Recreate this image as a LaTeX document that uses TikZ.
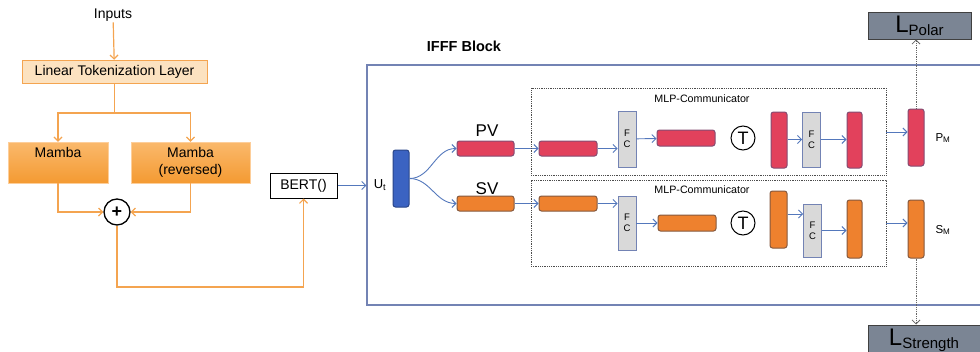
\documentclass[tikz,border=0pt]{standalone}
\usepackage{fontspec}
\setmainfont{Liberation Sans}
\usetikzlibrary{arrows.meta,calc}

\definecolor{lineblue}{HTML}{5478BC}
\definecolor{frameblue}{HTML}{7383B4}
\definecolor{lineorange}{HTML}{F4A450}
\definecolor{paleorange}{HTML}{FCE2C0}
\definecolor{mambatop}{HTML}{FAB96C}
\definecolor{mambabot}{HTML}{F49A32}
\definecolor{redbar}{HTML}{E2415C}
\definecolor{rededge}{HTML}{844C72}
\definecolor{orgbar}{HTML}{EE812E}
\definecolor{orgedge}{HTML}{85593E}
\definecolor{bluebar}{HTML}{3B63C2}
\definecolor{fcgray}{HTML}{D9D9D9}
\definecolor{lossgray}{HTML}{7B8594}

\begin{document}
\begin{tikzpicture}[x=1pt, y=-1pt,
    >={Straight Barb[length=4pt,width=8pt]},
    txt/.style={font=\fontsize{#1}{#1}\selectfont, inner sep=1pt},
    bflow/.style={->, draw=lineblue, line width=0.9pt},
    oflow/.style={->, draw=lineorange, line width=1.2pt},
    mambabox/.style={draw=paleorange!80!orange, top color=mambatop, bottom color=mambabot,
        minimum height=41, inner sep=0pt, align=center, font=\fontsize{14}{17}\selectfont},
    bar/.style 2 args={draw=#2, fill=#1, line width=1pt, rounded corners=2.5pt, inner sep=0pt},
    fcbox/.style={draw=frameblue, fill=fcgray, line width=0.8pt, inner sep=0pt, minimum width=18,
        align=center, font=\fontsize{9.5}{11}\selectfont},
    mlpbox/.style={draw=black!70, densely dotted, line width=0.8pt, minimum width=355, inner sep=0pt},
    tcirc/.style={draw, circle, line width=1pt, minimum size=24, inner sep=0pt, font=\fontsize{18}{18}\selectfont},
    lossbox/.style={draw=black!75, fill=lossgray, line width=1pt, inner sep=0pt}]
    \useasboundingbox (0,0) rectangle (980,351);

    % left branch
    \node[txt=14] (inputs) at (113,15) {Inputs};
    \node[draw=lineorange, fill=paleorange, minimum width=185, minimum height=23, inner sep=0pt,
        font=\fontsize{14}{16}\selectfont] (ltl) at (114.5,71.5) {Linear Tokenization Layer};
    \node[mambabox, minimum width=100] (mamba) at (58,162.5) {Mamba\\\phantom{(reversed)}};
    \node[mambabox, minimum width=119] (mambar) at (190.5,162.5) {Mamba\\(reversed)};
    \node[draw, circle, line width=1.3pt, minimum size=26, inner sep=0pt, font=\bfseries\fontsize{18}{18}\selectfont] (plus) at (117,212) {+};
    \node[draw, line width=1pt, minimum width=67, minimum height=25, inner sep=0pt,
        font=\fontsize{14}{15}\selectfont] (bert) at (303.5,185.5) {BERT()};
    \coordinate (split) at (114.5,113);
    \coordinate (low) at (117,287);

    \draw[oflow] (inputs) -- (ltl);
    \draw[draw=lineorange, line width=1.2pt] (ltl) -- (split);
    \draw[oflow] (split) -| (mamba);
    \draw[oflow] (split) -| (mambar);
    \draw[oflow] (mamba) |- (plus);
    \draw[oflow] (mambar) |- (plus);
    \draw[oflow] (plus) -- (low) -| (bert);

    % IFFF block
    \node[draw=frameblue, line width=1.3pt, minimum width=620, minimum height=240, inner sep=0pt] (ifff) at (677,185) {};
    \node[font=\bfseries\fontsize{14.5}{15}\selectfont, inner sep=1pt] (ifffl) at (464,46) {IFFF Block};
    \draw[bflow] (bert) -- (bert -| ifff.west);

    \node[bar={bluebar}{bluebar!70!black}, minimum width=16, minimum height=57] (ut) at (401,178.5) {};
    \node[txt=13] (utl) at (380,185) {U\textsubscript{t}};
    \node[bar={redbar}{rededge}, minimum width=57, minimum height=15] (pv) at (485.5,148.5) {};
    \node[bar={orgbar}{orgedge}, minimum width=57, minimum height=15] (sv) at (485.5,203.5) {};
    \node[txt=17] (pvl) at (487,131) {PV};
    \node[txt=17] (svl) at (487,189) {SV};
    \node[bar={redbar}{rededge}, minimum width=58, minimum height=15] (pv2) at (568,148.5) {};
    \node[bar={orgbar}{orgedge}, minimum width=58, minimum height=15] (sv2) at (568,203.5) {};
    \draw[bflow] (ut.east) to[out=0, in=180] (pv.west);
    \draw[bflow] (ut.east) to[out=0, in=180] (sv.west);
    \draw[bflow] (pv) -- (pv2);
    \draw[bflow] (sv) -- (sv2);

    % MLP-Communicators
    \node[mlpbox, minimum height=87] (mlp1) at (708.5,131.5) {};
    \node[mlpbox, minimum height=86] (mlp2) at (708.5,223) {};
    \node[txt=10.7] (mlp1l) at (702,99) {MLP-Communicator};
    \node[txt=10.7] (mlp2l) at (702,190) {MLP-Communicator};

    \node[fcbox, minimum height=56] (fc1) at (627,139) {F\\C};
    \node[bar={redbar}{rededge}, minimum width=58, minimum height=16] (pb3) at (686,138) {};
    \node[tcirc] (t1) at (743,138) {T};
    \node[bar={redbar}{rededge}, minimum width=16, minimum height=56] (pb4) at (779,140) {};
    \node[fcbox, minimum height=55] (fc2) at (811.5,139.5) {F\\C};
    \node[bar={redbar}{rededge}, minimum width=15, minimum height=56] (pb5) at (854.5,140) {};

    \node[fcbox, minimum height=54] (fc3) at (627,223) {F\\C};
    \node[bar={orgbar}{orgedge}, minimum width=58, minimum height=16] (ob3) at (687,223) {};
    \node[tcirc] (t2) at (743,223) {T};
    \node[bar={orgbar}{orgedge}, minimum width=17, minimum height=57] (ob4) at (778.5,219.5) {};
    \node[fcbox, minimum height=53] (fc4) at (812.5,230.5) {F\\C};
    \node[bar={orgbar}{orgedge}, minimum width=15, minimum height=58] (ob5) at (854.5,229) {};
    \coordinate (ob4out) at ($(ob4.east)+(0,-5.5)$);

    \draw[bflow] (pv2) -- (pv2 -| fc1.west);
    \draw[bflow] (fc1) -- (pb3);
    \draw[bflow] (pb4.east |- fc2) -- (fc2);
    \draw[bflow] (fc2) -- (pb5.west |- fc2);
    \draw[bflow] (sv2) -- (sv2 -| fc3.west);
    \draw[bflow] (fc3) -- (ob3);
    \draw[bflow] (ob4out) -- (ob4out -| fc4.west);
    \draw[bflow] (fc4) -- (fc4 -| ob5.west);

    % outputs
    \node[bar={redbar}{rededge}, minimum width=16, minimum height=57] (pm) at (916,137.5) {};
    \node[bar={orgbar}{orgedge}, minimum width=16, minimum height=58] (sm) at (916,229) {};
    \node[txt=11.5] (pml) at (943,138) {P\textsubscript{M}};
    \node[txt=11.5] (sml) at (943,230) {S\textsubscript{M}};
    \draw[bflow] (mlp1.east |- 0,132) -- (pm.west |- 0,132);
    \draw[bflow] (mlp2.east |- 0,223) -- (sm.west |- 0,223);

    \node[lossbox, minimum width=103, minimum height=27] (lpolar) at (919.5,25.5)
        {{\fontsize{24}{24}\selectfont L}\raisebox{-3pt}{\fontsize{15}{15}\selectfont Polar}};
    \node[lossbox, minimum width=112, minimum height=30] (lstrength) at (924,340)
        {{\fontsize{24}{24}\selectfont L}\raisebox{-3pt}{\fontsize{15}{15}\selectfont Strength}};
    \draw[->, densely dotted, draw=black!60, line width=0.8pt] (pm.north) -- (pm.north |- lpolar.south);
    \draw[->, densely dotted, draw=black!60, line width=0.8pt] (sm.south) -- (sm.south |- lstrength.north);
\end{tikzpicture}
\end{document}
